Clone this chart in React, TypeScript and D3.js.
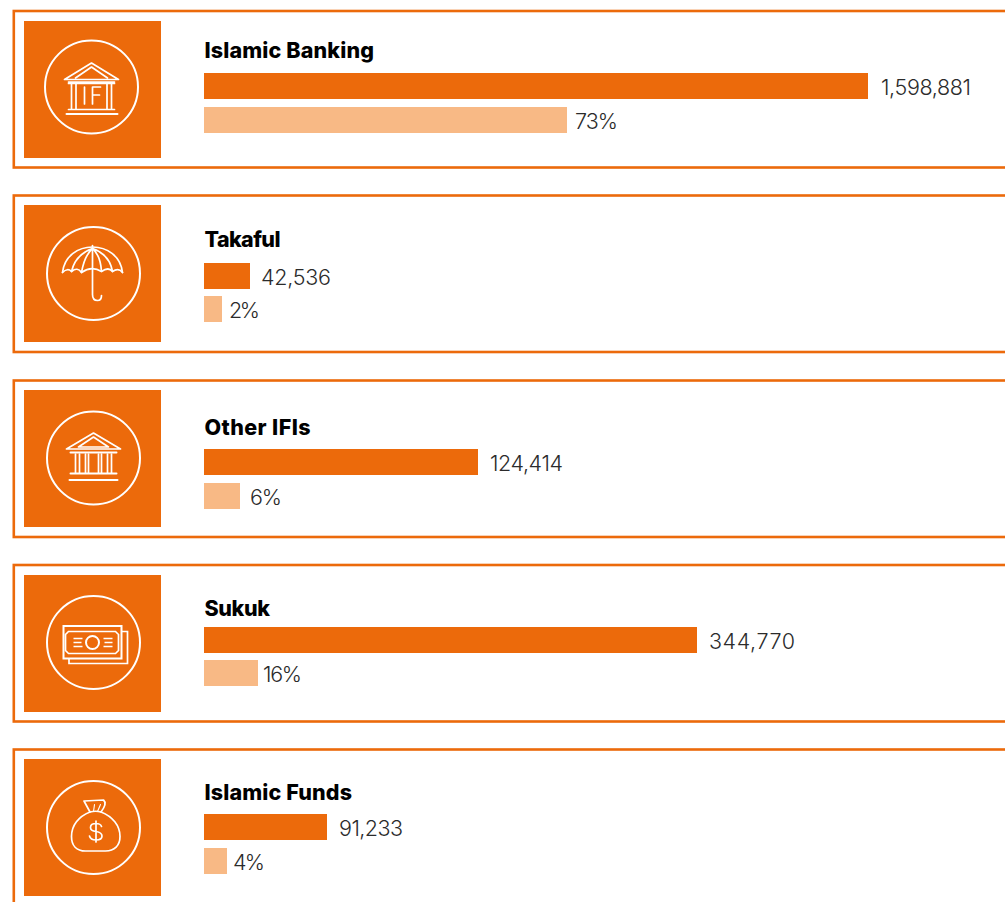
import React from "react";
import * as d3 from "d3";

const categories = ["Islamic Banking", "Takaful", "Other IFIs", "Sukuk", "Islamic Funds"];
const amounts = [1598881, 42536, 124414, 344770, 91233];
const shares = [73, 2, 6, 16, 4];
const iconKinds = ["temple-if", "umbrella", "temple", "money", "bag"];

const ORANGE = "#ec6a0b";
const PEACH = "#f8b985";
const INK = "#2b2b2b";
const W = 1005;
const H = 902;

// The source bars are not proportional to their values, so the scales are piecewise.
const amountScale = d3.scaleLinear()
  .domain([0, 42536, 91233, 124414, 344770, 1598881])
  .range([0, 46, 123, 274, 493, 664]);
const shareScale = d3.scaleLinear()
  .domain([0, 2, 4, 6, 16, 73])
  .range([0, 18, 23, 36, 54, 363]);
const fmt = d3.format(",");

const frameTop = [11, 195.5, 380.5, 565, 749.5];
const frameH = 156.5;
const squareTop = [21, 205, 390, 575, 759];
const titleBase = [58, 247, 435, 616, 800];
const bar1Top = [73, 263, 449, 627, 814];
const bar2Top = [107, 296, 483, 660, 848];
const circleCx = [91.5, 93.5, 93.5, 93.5, 93.5];
const circleCy = [87, 273.5, 458, 642.5, 827.5];
const gap1 = [13, 11, 12, 12, 12];
const gap2 = [8, 7, 10, 5, 6];
// Text widths of the reference's wider typeface, so that the labels end where it ends them.
const titleW = [169.5, 76, 106, 65.5, 147.5];
const amountW = [90, 70, 73, 86, 64];
const shareW = [43, 31, 32, 39, 32];
const BAR_X = 204;
const BAR_H = 26;

const ic = { fill: "none", stroke: "#fff", strokeWidth: 1.7, strokeLinecap: "round" as const, strokeLinejoin: "round" as const };

function TempleIF() {
  return (
    <g {...ic}>
      <path d="M-27,-7.5 L0,-24 L27,-7.5 Z" />
      <path d="M-16,-9 L0,-20 L16,-9" />
      <path d="M-23,-5 H23 M-23,-3.5 H23" />
      <path d="M-20,-3 V22 M-15.5,-3 V22 M15.5,-3 V22 M20,-3 V22" />
      <path d="M-23,22.5 H23" />
      <path d="M-25,27 H26" strokeWidth={2} />
      <path d="M-7,0 V17 M1,17 V0 H9 M1,8 H8" />
    </g>
  );
}
function Umbrella() {
  const d = d3.path();
  d.moveTo(-30, 0);
  d.bezierCurveTo(-26, -34, 26, -34, 30, 0);
  return (
    <g {...ic}>
      <g transform="translate(-1,-1)">
        <path d={d.toString()} />
        <path d="M-30,0 Q-25,-5 -21,-1 Q-15,-6 -11,0 Q-1,-7 9,-1 Q16,-6 20,-1 Q26,-5 30,0" />
        <path d="M-21,-1 Q-17,-18 0,-24 Q17,-18 20,-1 M-11,0 Q-8,-17 0,-24 Q8,-17 9,-1" />
        <path d="M0,-27 V22 Q0,28 5,28 Q9,28 9,23" />
      </g>
    </g>
  );
}
function Temple() {
  return (
    <g {...ic}>
      <path d="M-27,-9 L0,-25 L27,-9 Z" />
      <path d="M-15,-11 L0,-21 L15,-11 Z" />
      <path d="M-23,-5.5 H23" strokeWidth={2} />
      <path d="M-18,-4 V15 M-14,-4 V15 M-8,-4 V15 M-5,-4 V15 M5,-4 V15 M8,-4 V15 M14,-4 V15 M18,-4 V15" />
      <path d="M-23,15.5 H23" strokeWidth={2} />
      <path d="M-24,22 H24" strokeWidth={2} />
    </g>
  );
}
function Money() {
  return (
    <g {...ic} strokeLinecap="butt" strokeLinejoin="miter">
      <path d="M-30,-16.5 H28 V16 H-30 Z" strokeWidth={2} />
      <path d="M-25,-11 H22 L25,-8 V8 L22,11 H-25 L-28,8 V-8 Z" />
      <circle cx={-1} cy={0} r={6.5} strokeWidth={2} />
      <path d="M-20,-4 H-11 M-20,0 H-12 M-20,4 H-11 M10,-4 H19 M11,0 H19 M10,4 H19" />
      <path d="M28,-11 H34 V21 H-24.5 V16" />
    </g>
  );
}
function Bag() {
  return (
    <g {...ic}>
      <path d="M-3.5,-15.5 C-15,-11 -22,-2 -22,9 C-22,18 -17,23.5 -8,23.5 H12 C21,23.5 26.5,18 26.5,9 C26.5,-2 19,-11 7.5,-15.5" />
      <path d="M-3.5,-15.5 L-9.5,-26.5 L10,-27.5 Q14,-24 7.5,-15.5 Q2,-17 -3.5,-15.5 Z" />
      <path d="M0,-16 L1,-23 M4,-16 L7,-23" strokeWidth={1.1} />
      <path d="M8,-1 Q7,-4 2.5,-4 Q-3,-4 -3,0 Q-3,3.5 2.5,4 Q8.5,5 8.5,8.5 Q8.5,12.5 2.5,12.5 Q-3,12.5 -4,8.5 M2.5,-6.5 V14.5" />
    </g>
  );
}
const icons: Record<string, () => React.ReactElement> = {
  "temple-if": TempleIF,
  umbrella: Umbrella,
  temple: Temple,
  money: Money,
  bag: Bag,
};

export default function App() {
  return (
    <svg width={W} height={H} viewBox={`0 0 ${W} ${H}`} style={{ position: "absolute", left: 0, top: 0, display: "block", background: "#fff" }}>
      {categories.map((name, i) => {
        const Icon = icons[iconKinds[i]];
        const w1 = amountScale(amounts[i]);
        const w2 = shareScale(shares[i]);
        return (
          <g key={name}>
            <rect x={13.8} y={frameTop[i]} width={W + 20} height={frameH} fill="#fff" stroke={ORANGE} strokeWidth={2.6} />
            <rect x={24} y={squareTop[i]} width={137} height={137} fill={ORANGE} />
            <circle cx={circleCx[i]} cy={circleCy[i]} r={46.5} fill="none" stroke="#fff" strokeWidth={2} />
            <g transform={`translate(${circleCx[i]},${circleCy[i]})`}>
              <Icon />
            </g>
            <text x={204.5} y={titleBase[i]} fontFamily="Inter, sans-serif" fontWeight={800} fontSize={21.5} fill="#000" textLength={titleW[i]}>{name}</text>
            <rect x={BAR_X} y={bar1Top[i]} width={w1} height={BAR_H} fill={ORANGE} />
            <rect x={BAR_X} y={bar2Top[i]} width={w2} height={BAR_H} fill={PEACH} />
            <text x={BAR_X + w1 + gap1[i]} y={bar1Top[i] + 22} fontFamily="Inter, sans-serif" fontWeight={300} fontSize={21.5} fill={INK} textLength={amountW[i]}>{fmt(amounts[i])}</text>
            <text x={BAR_X + w2 + gap2[i]} y={bar2Top[i] + 22} fontFamily="Inter, sans-serif" fontWeight={300} fontSize={21.5} fill={INK} textLength={shareW[i]}>{shares[i]}%</text>
          </g>
        );
      })}
    </svg>
  );
}
